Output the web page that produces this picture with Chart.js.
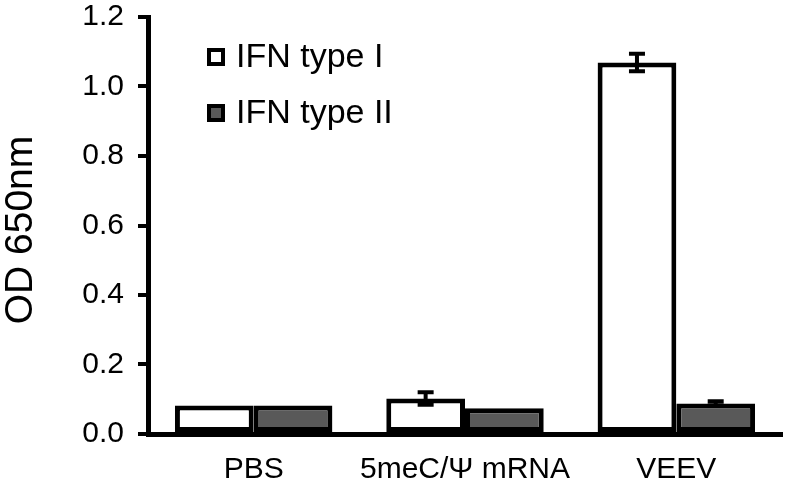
<!DOCTYPE html>
<html>
<head>
<meta charset="utf-8">
<script src="https://cdn.jsdelivr.net/npm/chart.js@4"></script>
<style>
  html, body { margin: 0; padding: 0; background: #fff; }
  #wrap { width: 789px; height: 497px; }
</style>
</head>
<body>
<div id="wrap"><canvas id="cv" width="789" height="497"></canvas></div>
<script>
// ---- data ----
const groups = ['PBS', '5meC/\u03A8 mRNA', 'VEEV'];
const typeI = [0.082, 0.102, 1.069];
const typeIErr = [0, 0.018, 0.025];
const typeII = [0.082, 0.074, 0.088];
const typeIIErr = [0, 0, 0.006];
const seriesNames = ['IFN type I', 'IFN type II'];
const yTicks = [0, 0.2, 0.4, 0.6, 0.8, 1.0, 1.2];
const yTitle = 'OD 650nm';

const FONT = '"Liberation Sans", Arial, sans-serif';

// error bars drawn through the value scale
const errorBars = {
  id: 'errorBars',
  afterDatasetsDraw(chart){
    const ctx = chart.ctx, y = chart.scales.y;
    ctx.save();
    ctx.strokeStyle = '#000';
    ctx.lineWidth = 4;
    chart.data.datasets.forEach((ds, i) => {
      const meta = chart.getDatasetMeta(i);
      meta.data.forEach((bar, j) => {
        const e = ds.errors[j];
        if (!e) return;
        const top = y.getPixelForValue(ds.data[j] + e);
        const bot = y.getPixelForValue(ds.data[j] - e);
        ctx.beginPath();
        ctx.moveTo(bar.x, top); ctx.lineTo(bar.x, bot);
        ctx.moveTo(bar.x - 8, top); ctx.lineTo(bar.x + 8, top);
        ctx.moveTo(bar.x - 8, bot); ctx.lineTo(bar.x + 8, bot);
        ctx.stroke();
      });
    });
    ctx.restore();
  }
};

// legend inside the plot, upper left
const innerLegend = {
  id: 'innerLegend',
  afterDraw(chart){
    const ctx = chart.ctx;
    ctx.save();
    ctx.font = '34px ' + FONT;
    ctx.textBaseline = 'middle';
    chart.data.datasets.forEach((ds, i) => {
      const yy = 57 + i * 56;
      ctx.fillStyle = ds.backgroundColor;
      ctx.fillRect(209, yy - 7, 14, 14);
      ctx.strokeStyle = '#000';
      ctx.lineWidth = 4;
      ctx.strokeRect(209, yy - 7, 14, 14);
      ctx.fillStyle = '#000';
      ctx.fillText(ds.label, 236, yy + 1);
    });
    ctx.restore();
  }
};

// rotated y title
const yTitlePlugin = {
  id: 'yTitlePlugin',
  afterDraw(chart){
    const ctx = chart.ctx;
    ctx.save();
    ctx.translate(21, 230);
    ctx.rotate(-Math.PI / 2);
    ctx.font = '39px ' + FONT;
    ctx.fillStyle = '#000';
    ctx.textAlign = 'center';
    ctx.textBaseline = 'middle';
    ctx.fillText(yTitle, 0, 0);
    ctx.restore();
  }
};

new Chart(document.getElementById('cv'), {
  type: 'bar',
  data: {
    labels: groups,
    datasets: [
      { label: seriesNames[0], data: typeI, errors: typeIErr, backgroundColor: '#ffffff',
        borderColor: '#000', borderWidth: 5, borderSkipped: false },
      { label: seriesNames[1], data: typeII, errors: typeIIErr, backgroundColor: '#595959',
        borderColor: '#000', borderWidth: 5, borderSkipped: false }
    ]
  },
  options: {
    responsive: false,
    animation: false,
    datasets: { bar: { categoryPercentage: 0.745, barPercentage: 1.0 } },
    layout: { padding: { top: 17, right: 7, bottom: 0, left: 0 } },
    plugins: { legend: { display: false }, tooltip: { enabled: false } },
    scales: {
      x: {
        grid: { display: false, drawTicks: false },
        border: { display: true, color: '#000', width: 5 },
        ticks: { color: '#000', padding: 21, autoSkip: false, maxRotation: 0, minRotation: 0,
                 font: { family: FONT, size: 30, lineHeight: 1 } },
        afterFit(s){ s.height = 63; s.paddingLeft = 0; s.paddingRight = 0; }
      },
      y: {
        min: 0, max: 1.2,
        afterBuildTicks(s){ s.ticks = yTicks.map(v => ({ value: v })); },
        grid: { drawOnChartArea: false, drawTicks: true, tickLength: 10, color: '#000', lineWidth: 4 },
        border: { display: true, color: '#000', width: 5 },
        ticks: { color: '#000', padding: 14, font: { family: FONT, size: 30, lineHeight: 1 },
                 callback: v => v.toFixed(1) },
        afterFit(s){ s.width = 148; s.paddingTop = 0; s.paddingBottom = 0; }
      }
    }
  },
  plugins: [errorBars, innerLegend, yTitlePlugin]
});
</script>
</body>
</html>
